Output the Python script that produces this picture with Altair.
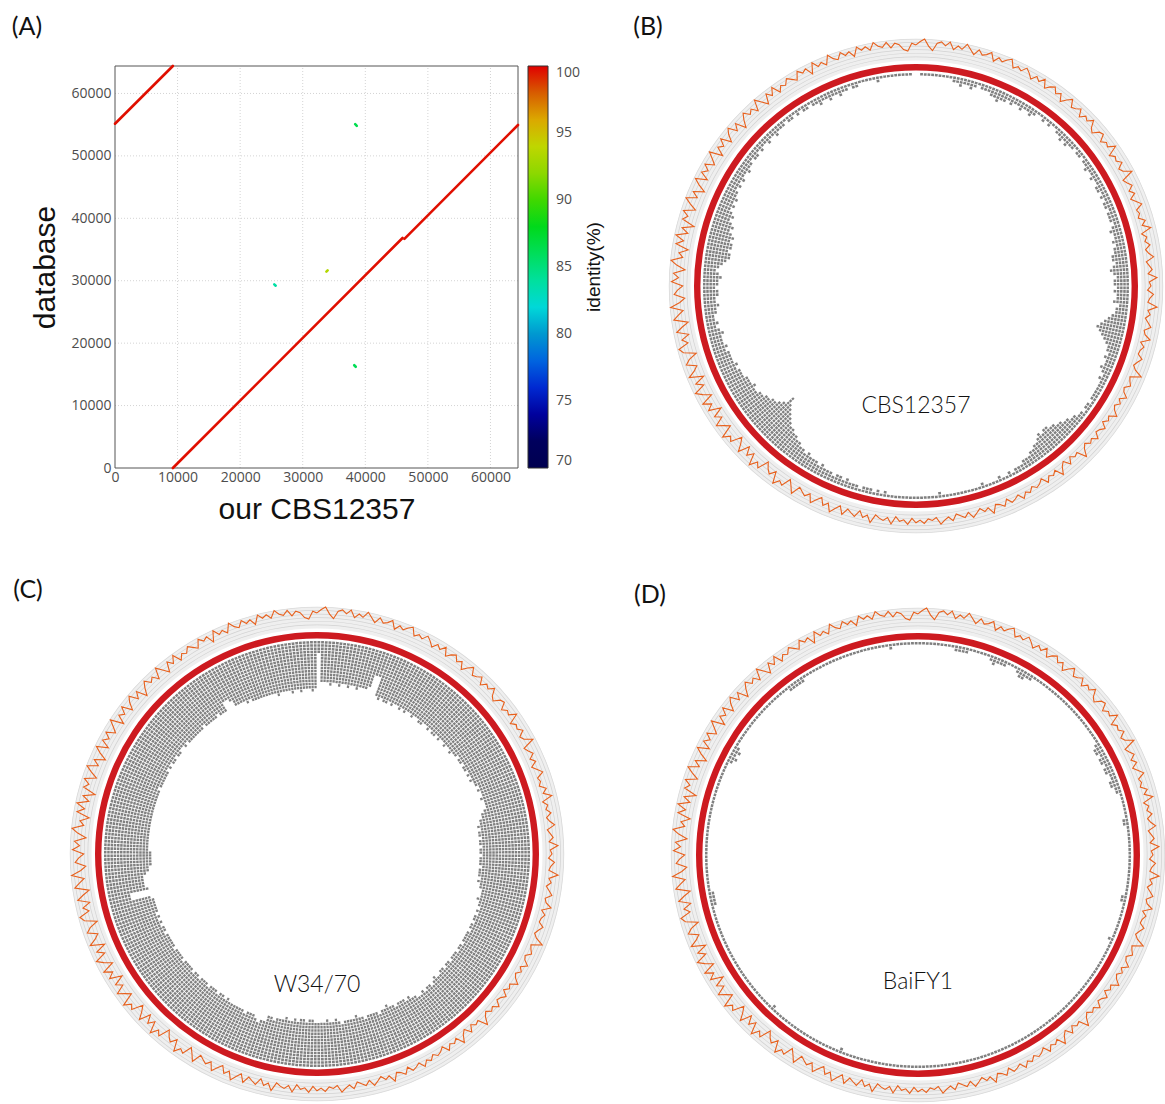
import math
import altair as alt
import pandas as pd

W, H = 1165, 1104

# ---------------- (A) self-alignment dot plot ----------------
A_MAX = 64400
A_TICKS = [0, 10000, 20000, 30000, 40000, 50000, 60000]
SEG_X1 = [9250, 46250, 0, 38380, 25450, 33780, 38230]
SEG_Y1 = [0, 36700, 55150, 55080, 29420, 31460, 16460]
SEG_X2 = [45950, 64400, 9250, 38640, 25680, 33980, 38470]
SEG_Y2 = [36850, 54950, 64400, 54820, 29200, 31660, 16220]
SEG_IDENTITY = [99.9, 99.9, 99.9, 86.5, 83.8, 93.5, 86.2]

IDENT_STOPS = [70, 72.5, 75, 77, 80, 82, 85, 88.3, 90, 92.7, 95, 97.4, 100]
IDENT_COLORS = ["#000000", "#000060", "#0000c8", "#0040d8", "#0098d0", "#00d8d8",
                "#00e070", "#00d800", "#40d800", "#a0d800", "#d4d400", "#d46a00", "#e00000"]

# ---------------- circular maps (shared GC track, 1 degree windows) ----------------
GC_WINDOW = [
    30, 34, 37, 29, 24, 33, 35, 31, 36, 28, 33, 30, 37, 32, 27, 34, 29, 31, 35, 26, 32, 29, 33, 36, 27, 31, 28, 34, 30, 25,
    31, 27, 33, 24, 29, 32, 26, 30, 22, 28, 33, 25, 27, 31, 23, 29, 26, 32, 24, 21, 28, 30, 22, 27, 25, 33, 21, 26, 24, 29,
    22, 25, 34, 20, 23, 27, 21, 26, 19, 24, 29, 21, 23, 20, 27, 22, 31, 19, 24, 21, 26, 20, 23, 28, 19, 22, 25, 20, 30, 21,
    23, 19, 26, 22, 20, 31, 21, 24, 19, 23, 27, 20, 22, 29, 19, 24, 21, 20, 26, 22, 19, 23, 32, 20, 22, 25, 19, 21, 27, 20,
    24, 19, 22, 28, 20, 23, 18, 25, 21, 19, 26, 20, 23, 18, 22, 30, 19, 21, 17, 24, 16, 20, 28, 18, 22, 19, 25, 17, 21, 23,
    19, 24, 21, 27, 20, 23, 25, 19, 26, 22, 20, 29, 21, 24, 19, 23, 27, 20, 25, 22, 19, 26, 21, 24, 28, 20, 23, 21, 26, 22,
    25, 20, 27, 22, 24, 19, 28, 21, 25, 23, 20, 30, 22, 26, 19, 27, 24, 21, 29, 20, 25, 31, 22, 27, 19, 24, 30, 21, 26, 23,
    20, 31, 24, 18, 29, 26, 33, 20, 27, 23, 17, 30, 25, 34, 21, 28, 19, 32, 24, 18, 31, 27, 35, 20, 26, 33, 22, 29, 17, 31,
    24, 33, 19, 28, 35, 22, 30, 18, 34, 26, 21, 32, 27, 17, 31, 35, 23, 29, 20, 33, 26, 18, 34, 28, 22, 36, 25, 19, 31, 27,
    21, 34, 26, 32, 19, 29, 36, 23, 28, 18, 33, 25, 35, 22, 30, 17, 32, 27, 34, 21, 29, 36, 24, 31, 19, 28, 35, 22, 32, 26,
    33, 23, 29, 36, 21, 31, 26, 34, 22, 30, 35, 25, 32, 20, 28, 34, 27, 31, 24, 36, 29, 22, 33, 27, 35, 25, 31, 28, 34, 30,
    26, 35, 30, 33, 24, 36, 29, 32, 27, 37, 31, 28, 35, 30, 33, 26, 36, 31, 34, 29, 37, 32, 30, 35, 28, 33, 31, 25, 23, 32,
]

# variant counts per 1-degree window
COUNTS_CBS12357 = [
    0, 1, 1, 1, 1, 1, 1, 1, 1, 1, 2, 2, 3, 2, 2, 3, 2, 1, 2, 2, 2, 3, 3, 4, 3, 3, 2, 3, 2, 2,
    3, 2, 2, 3, 2, 1, 1, 2, 1, 2, 1, 1, 2, 2, 3, 2, 3, 2, 2, 1, 2, 2, 1, 2, 2, 3, 2, 2, 3, 2,
    2, 3, 3, 2, 3, 2, 3, 3, 2, 3, 3, 3, 2, 3, 4, 3, 3, 4, 3, 4, 4, 5, 5, 4, 5, 6, 5, 4, 5, 5,
    4, 5, 4, 4, 5, 3, 4, 4, 5, 6, 7, 8, 9, 8, 7, 6, 5, 4, 4, 3, 4, 3, 3, 4, 3, 2, 3, 2, 2, 2,
    2, 2, 2, 1, 2, 2, 1, 2, 2, 3, 3, 4, 4, 5, 5, 6, 6, 7, 7, 6, 7, 6, 5, 5, 4, 4, 3, 3, 3, 2,
    2, 2, 1, 2, 1, 1, 2, 1, 1, 1, 1, 2, 1, 1, 1, 1, 1, 1, 1, 1, 1, 1, 1, 2, 1, 1, 1, 1, 1, 1,
    1, 1, 1, 1, 1, 1, 1, 1, 2, 1, 2, 1, 2, 2, 2, 1, 2, 2, 2, 3, 2, 3, 3, 2, 3, 3, 3, 4, 3, 4,
    4, 4, 5, 4, 5, 5, 6, 6, 7, 7, 8, 8, 9, 10, 11, 12, 13, 15, 12, 11, 10, 10, 9, 9, 8, 8, 7, 7, 8, 7,
    7, 7, 6, 6, 6, 5, 6, 5, 5, 5, 5, 4, 5, 4, 4, 4, 5, 4, 3, 4, 3, 3, 4, 4, 5, 4, 4, 5, 5, 4,
    5, 5, 6, 5, 4, 5, 6, 7, 8, 8, 7, 8, 8, 7, 8, 7, 6, 7, 6, 5, 6, 5, 4, 5, 4, 5, 4, 4, 3, 4,
    3, 4, 3, 3, 4, 3, 3, 2, 3, 3, 2, 3, 2, 2, 3, 2, 2, 3, 2, 2, 2, 1, 2, 2, 1, 2, 1, 2, 2, 1,
    2, 2, 3, 2, 2, 3, 2, 2, 3, 2, 2, 1, 2, 2, 1, 1, 1, 1, 1, 2, 1, 1, 1, 1, 1, 1, 1, 1, 1, 0,
]

COUNTS_W34_70 = [
    4, 13, 13, 13, 14, 13, 13, 14, 13, 13, 14, 13, 13, 14, 13, 13, 13, 12, 8, 8, 14, 15, 14, 15, 15, 14, 15, 14, 14, 15,
    14, 15, 14, 14, 15, 14, 14, 15, 15, 14, 14, 15, 14, 15, 15, 14, 15, 14, 14, 15, 14, 14, 15, 14, 14, 13, 14, 14, 13, 14,
    14, 13, 14, 13, 14, 13, 13, 12, 13, 12, 12, 13, 12, 12, 12, 13, 14, 14, 15, 15, 16, 15, 16, 16, 15, 16, 16, 15, 16, 16,
    15, 16, 16, 16, 15, 16, 16, 16, 15, 16, 15, 15, 14, 14, 14, 15, 14, 14, 13, 14, 13, 14, 14, 13, 14, 14, 13, 14, 14, 14,
    14, 13, 14, 14, 13, 14, 14, 14, 13, 14, 14, 13, 14, 14, 13, 13, 14, 13, 12, 13, 13, 12, 13, 12, 12, 13, 13, 14, 13, 14,
    14, 14, 13, 14, 14, 15, 14, 14, 13, 14, 14, 14, 14, 13, 14, 14, 15, 14, 14, 14, 14, 13, 14, 15, 14, 14, 15, 14, 14, 14,
    14, 15, 15, 14, 15, 15, 14, 15, 14, 14, 15, 14, 14, 14, 13, 14, 14, 12, 12, 11, 12, 13, 13, 13, 12, 13, 13, 13, 13, 13,
    13, 14, 13, 14, 14, 13, 14, 14, 14, 13, 14, 14, 14, 13, 14, 14, 13, 14, 14, 14, 14, 13, 14, 14, 14, 14, 13, 14, 14, 14,
    14, 14, 13, 14, 14, 13, 14, 13, 14, 13, 14, 14, 14, 14, 14, 13, 7, 7, 13, 12, 12, 12, 12, 13, 14, 14, 15, 15, 15, 15,
    15, 14, 14, 14, 14, 14, 14, 14, 14, 14, 14, 14, 14, 14, 14, 14, 14, 14, 14, 14, 14, 14, 13, 14, 14, 14, 14, 14, 14, 13,
    14, 13, 14, 14, 13, 14, 14, 13, 13, 14, 13, 14, 14, 14, 14, 14, 14, 14, 13, 14, 14, 14, 14, 14, 13, 14, 14, 14, 11, 11,
    12, 14, 14, 14, 14, 15, 14, 15, 15, 15, 15, 15, 15, 15, 15, 15, 16, 15, 15, 15, 15, 16, 15, 15, 16, 15, 15, 15, 16, 15,
]

COUNTS_BAIFY1 = [
    1, 1, 1, 1, 1, 1, 1, 1, 1, 1, 2, 2, 2, 2, 1, 1, 1, 1, 1, 1, 2, 3, 2, 2, 2, 1, 1, 1, 2, 3,
    3, 2, 2, 1, 1, 1, 1, 1, 1, 1, 1, 1, 1, 1, 1, 1, 1, 1, 1, 1, 1, 1, 1, 1, 1, 1, 1, 1, 2, 3,
    3, 2, 3, 3, 2, 3, 3, 2, 2, 3, 3, 2, 2, 1, 1, 1, 1, 1, 1, 1, 2, 2, 1, 1, 1, 1, 1, 1, 1, 1,
    1, 1, 1, 1, 1, 1, 1, 1, 1, 1, 1, 2, 2, 1, 1, 1, 1, 1, 1, 1, 1, 1, 1, 2, 1, 1, 1, 1, 1, 1,
    1, 1, 1, 1, 1, 1, 1, 1, 1, 1, 1, 1, 1, 1, 1, 1, 1, 1, 1, 1, 1, 1, 1, 1, 1, 1, 1, 1, 1, 1,
    1, 1, 1, 1, 1, 1, 1, 1, 1, 1, 1, 1, 1, 1, 1, 1, 1, 1, 1, 1, 1, 1, 1, 1, 1, 1, 1, 1, 1, 1,
    1, 1, 1, 1, 1, 1, 1, 1, 1, 1, 1, 1, 1, 1, 1, 1, 1, 1, 1, 1, 1, 2, 1, 1, 1, 1, 1, 1, 1, 1,
    1, 1, 1, 1, 1, 1, 1, 1, 1, 1, 1, 1, 1, 2, 1, 1, 1, 1, 1, 1, 1, 1, 1, 1, 1, 1, 1, 1, 1, 1,
    1, 1, 1, 1, 1, 1, 1, 1, 1, 1, 1, 1, 1, 1, 1, 1, 2, 2, 2, 2, 1, 1, 1, 1, 1, 1, 1, 1, 1, 1,
    1, 1, 1, 1, 1, 1, 1, 1, 1, 1, 1, 1, 1, 1, 1, 1, 1, 1, 1, 1, 1, 1, 1, 1, 1, 1, 2, 3, 2, 3,
    2, 1, 1, 1, 1, 1, 1, 1, 1, 1, 1, 1, 1, 1, 1, 1, 1, 1, 1, 1, 1, 1, 2, 2, 2, 2, 2, 1, 1, 1,
    1, 1, 1, 1, 1, 1, 1, 1, 1, 1, 1, 1, 1, 1, 1, 1, 1, 1, 1, 1, 1, 1, 2, 1, 1, 1, 1, 1, 1, 1,
]

# ---------------- layout / style ----------------
A_LEFT, A_RIGHT, A_TOP, A_BOTTOM = 115, 518, 66, 468
R_VIEW = 250
BAND = (225.5, 247.0)
BAND_LINES = [228.8, 232.4, 236.0, 239.6, 243.2]
RED_RING = (215.5, 222.0)
TILE_R0, TILE_PITCH, TILE_TH, TILE_PAD = 213.0, 3.2, 2.5, 0.12
GC_LO, GC_HI = 12, 38
TRACE_R = (225.5, 248.0)

TICK_FONT = "Open Sans"
LABEL_COLOR = "#4d4d4d"


def dot_plot_layers():
    xs = alt.Scale(domain=[0, A_MAX], range=[A_LEFT, A_RIGHT], nice=False, zero=False)
    ys = alt.Scale(domain=[0, A_MAX], range=[A_BOTTOM, A_TOP], nice=False, zero=False)

    grid_v = alt.Chart(pd.DataFrame({"t": A_TICKS[1:], "lo": 0, "hi": A_MAX})).mark_rule(
        color="#d4d4d4", strokeDash=[1, 2], strokeWidth=1
    ).encode(
        x=alt.X("t:Q", scale=xs, axis=None),
        y=alt.Y("lo:Q", scale=ys, axis=None),
        y2="hi:Q",
    )
    grid_h = alt.Chart(pd.DataFrame({"t": A_TICKS[1:], "lo": 0, "hi": A_MAX})).mark_rule(
        color="#d4d4d4", strokeDash=[1, 2], strokeWidth=1
    ).encode(
        y=alt.Y("t:Q", scale=ys, axis=None),
        x=alt.X("lo:Q", scale=xs, axis=None),
        x2="hi:Q",
    )
    frame = alt.Chart(pd.DataFrame({"lo": [0], "hi": [A_MAX]})).mark_rect(
        fillOpacity=0, stroke="#555555", strokeWidth=1
    ).encode(
        x=alt.X("lo:Q", scale=xs, axis=None),
        x2="hi:Q",
        y=alt.Y("lo:Q", scale=ys, axis=None),
        y2="hi:Q",
    )
    seg_df = pd.DataFrame({"x1": SEG_X1, "y1": SEG_Y1, "x2": SEG_X2, "y2": SEG_Y2,
                           "identity": SEG_IDENTITY})
    segs = alt.Chart(seg_df).mark_rule(strokeWidth=2.6, strokeCap="round").encode(
        x=alt.X("x1:Q", scale=xs, axis=alt.Axis(
            orient="bottom", offset=A_BOTTOM - H, values=A_TICKS, format="d",
            labelFont=TICK_FONT, labelFontSize=14, labelColor=LABEL_COLOR, labelPadding=2,
            labelFlush=False, ticks=False, domain=False, grid=False,
            title="our CBS12357", titleFont="Liberation Sans", titleFontSize=30,
            titleFontWeight="normal", titleColor="#111111", titlePadding=10)),
        y=alt.Y("y1:Q", scale=ys, axis=alt.Axis(
            orient="left", offset=-A_LEFT, values=A_TICKS, format="d",
            labelFont=TICK_FONT, labelFontSize=14, labelColor=LABEL_COLOR, labelPadding=4,
            labelFlush=False, ticks=False, domain=False, grid=False,
            title="database", titleFont="Liberation Sans", titleFontSize=30,
            titleFontWeight="normal", titleColor="#111111", titlePadding=10)),
        x2="x2:Q",
        y2="y2:Q",
        color=alt.Color("identity:Q",
                        scale=alt.Scale(domain=IDENT_STOPS, range=IDENT_COLORS),
                        legend=alt.Legend(
                            orient="none", legendX=528, legendY=A_TOP, padding=0,
                            direction="vertical", gradientLength=A_BOTTOM - A_TOP,
                            gradientThickness=20, gradientStrokeColor="#333333",
                            gradientStrokeWidth=1, values=[70, 75, 80, 85, 90, 95, 100],
                            labelFont=TICK_FONT, labelFontSize=14, labelColor=LABEL_COLOR,
                            labelOffset=8, labelBaseline="middle", labelOverlap=False,
                            title="")),
    )
    # colour bar caption, reading upwards beside the gradient
    cbar_title = alt.Chart(pd.DataFrame({"t": ["identity(%)"]})).mark_text(
        font="Liberation Sans", fontSize=19, color="#111111", angle=270
    ).encode(x=alt.value(594), y=alt.value((A_TOP + A_BOTTOM) / 2), text="t:N")
    return [grid_v, grid_h, frame, segs, cbar_title]


def circle_layers(cx, cy, counts, name, name_dy):
    xs = alt.Scale(domain=[-R_VIEW, R_VIEW], range=[cx - R_VIEW, cx + R_VIEW], nice=False, zero=False)
    ys = alt.Scale(domain=[-R_VIEW, R_VIEW], range=[cy + R_VIEW, cy - R_VIEW], nice=False, zero=False)
    rs = alt.Scale(type="linear", domain=[0, R_VIEW], range=[0, R_VIEW], zero=True, nice=False)
    ts = alt.Scale(domain=[0, 360], range=[0, 2 * math.pi], nice=False, zero=True)

    def arcs(df, color):
        return alt.Chart(df).mark_arc(color=color).transform_calculate(
            c0="0"
        ).encode(
            x=alt.X("c0:Q", scale=xs, axis=None),
            y=alt.Y("c0:Q", scale=ys, axis=None),
            theta=alt.Theta("a0:Q", scale=ts, stack=False),
            theta2="a1:Q",
            radius=alt.Radius("r1:Q", scale=rs),
            radius2="r0:Q",
        )

    full = {"a0": 0, "a1": 360}
    band = arcs(pd.DataFrame([{**full, "r0": BAND[0], "r1": BAND[1]}]), "#efefef")
    lines = arcs(pd.DataFrame([{**full, "r0": r, "r1": r + 0.7} for r in BAND_LINES]), "#d2d2d2")
    edge = arcs(pd.DataFrame([{**full, "r0": BAND[1] - 0.6, "r1": BAND[1] + 0.2}]), "#d9d9d9")
    ring = arcs(pd.DataFrame([{**full, "r0": RED_RING[0], "r1": RED_RING[1]}]), "#cd1a20")

    rows = [{"bin": i, "lev": j} for i, n in enumerate(counts) for j in range(n)]
    tiles = alt.Chart(pd.DataFrame(rows)).mark_arc(color="#808080").transform_calculate(
        c0="0",
        a0=f"datum.bin + {TILE_PAD}",
        a1=f"datum.bin + 1 - {TILE_PAD}",
        r1=f"{TILE_R0} - datum.lev * {TILE_PITCH}",
        r0=f"{TILE_R0} - datum.lev * {TILE_PITCH} - {TILE_TH}",
    ).encode(
        x=alt.X("c0:Q", scale=xs, axis=None),
        y=alt.Y("c0:Q", scale=ys, axis=None),
        theta=alt.Theta("a0:Q", scale=ts, stack=False),
        theta2="a1:Q",
        radius=alt.Radius("r1:Q", scale=rs),
        radius2="r0:Q",
    )

    n = len(GC_WINDOW)
    gc_df = pd.DataFrame({"pos": list(range(n)) + [n], "gc": GC_WINDOW + GC_WINDOW[:1]})
    k = (TRACE_R[1] - TRACE_R[0]) / (GC_HI - GC_LO)
    trace = alt.Chart(gc_df).mark_line(color="#e8601c", strokeWidth=1.1).transform_calculate(
        ang=f"datum.pos * 2 * PI / {n}",
        rr=f"{TRACE_R[0]} + (datum.gc - {GC_LO}) * {k}",
        px="datum.rr * sin(datum.ang)",
        py="datum.rr * cos(datum.ang)",
    ).encode(
        x=alt.X("px:Q", scale=xs, axis=None),
        y=alt.Y("py:Q", scale=ys, axis=None),
        order=alt.Order("pos:Q"),
    )

    label = alt.Chart(pd.DataFrame({"name": [name], "lx": [0], "ly": [name_dy]})).mark_text(
        font="Lato", fontSize=23, fontWeight=300, color="#111111"
    ).encode(
        x=alt.X("lx:Q", scale=xs, axis=None),
        y=alt.Y("ly:Q", scale=ys, axis=None),
        text="name:N",
    )
    return [band, lines, edge, ring, tiles, trace, label]


def panel_letter(letter, px, py):
    return alt.Chart(pd.DataFrame({"t": [letter]})).mark_text(
        font="Lato", fontSize=25, color="#111111"
    ).encode(x=alt.value(px), y=alt.value(py), text="t:N")


layers = (
    dot_plot_layers()
    + circle_layers(916, 286, COUNTS_CBS12357, "CBS12357", -120)
    + circle_layers(317, 854, COUNTS_W34_70, "W34/70", -131)
    + circle_layers(918, 855, COUNTS_BAIFY1, "BaiFY1", -127)
    + [panel_letter("(A)", 27, 27), panel_letter("(B)", 648, 27),
       panel_letter("(C)", 28, 590), panel_letter("(D)", 650, 595)]
)

chart = alt.layer(*layers).resolve_scale(
    x="independent", y="independent", theta="independent",
    radius="independent", color="independent",
).properties(
    width=W, height=H, padding=0, autosize=alt.AutoSizeParams(type="none"),
    background="white",
).configure_view(stroke="transparent")

chart.save("out.html", embed_options={"renderer": "svg", "actions": False})
